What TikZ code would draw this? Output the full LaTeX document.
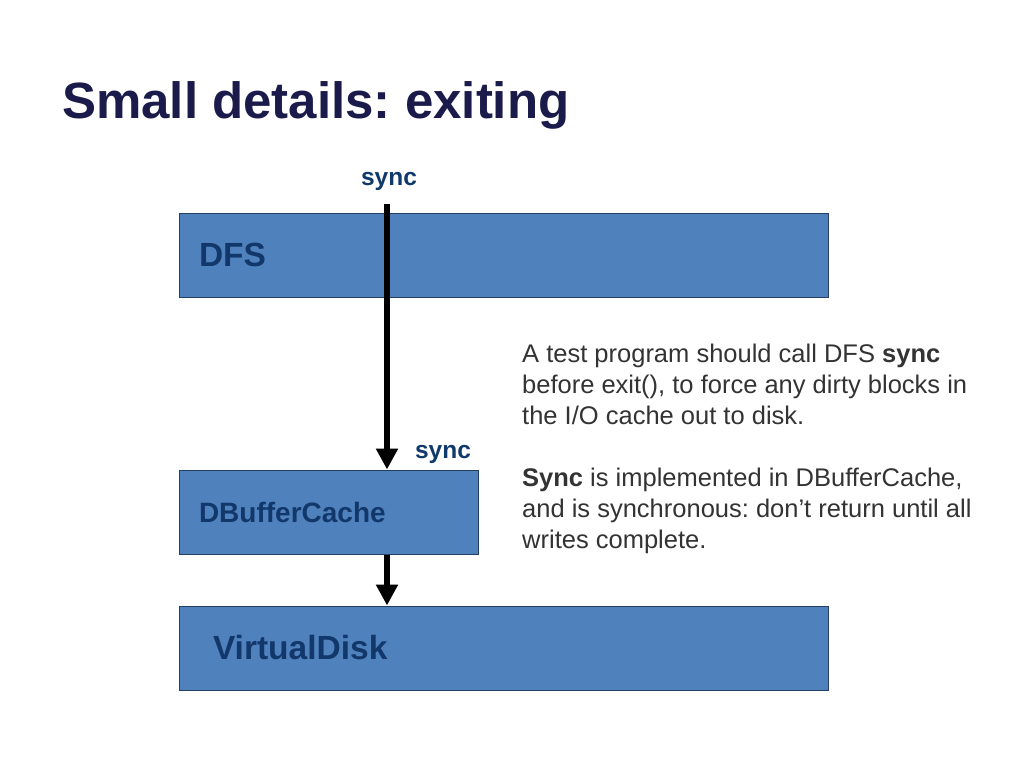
\documentclass[tikz,border=0pt]{standalone}
\usepackage{fontspec}
\setmainfont{Liberation Sans}
\usetikzlibrary{arrows.meta}
\definecolor{boxblue}{HTML}{4F81BD}
\definecolor{edgecol}{HTML}{243F60}
\definecolor{boxtext}{HTML}{12386B}
\definecolor{titlecol}{HTML}{1B1B4B}
\definecolor{synccol}{HTML}{0F3A6B}
\definecolor{bodycol}{HTML}{333333}
\tikzset{
  layer/.style={draw=edgecol, fill=boxblue, line width=1pt, minimum height=84pt,
    inner ysep=0pt, inner xsep=20pt, align=left, text=boxtext,
    font=\bfseries\fontsize{33.5}{40}\selectfont},
  synclabel/.style={anchor=base, inner sep=0pt, text=synccol,
    font=\bfseries\fontsize{24.5}{29}\selectfont},
  arr/.style={line width=6pt, -{Triangle[length=21pt,width=21pt]}},
}
\begin{document}
\frenchspacing
\begin{tikzpicture}[x=1pt,y=-1pt]
\useasboundingbox[fill=white] (0,0) rectangle (1024,768);
\node[anchor=base west, inner sep=0pt, text=titlecol,
  font=\bfseries\fontsize{51}{60}\selectfont] (title) at (62,118) {Small details: exiting};

\node[layer, text width=609pt] (dfs) at (503.5,255) {\raisebox{-1.5pt}{DFS}};
\node[layer, text width=259pt, font=\bfseries\fontsize{28}{34}\selectfont] (dbc) at (328.5,512) {DBufferCache};
\node[layer, inner xsep=34pt, text width=581pt] (vd) at (503.5,648) {\raisebox{-1.5pt}{VirtualDisk}};

\coordinate (start) at (387,204);
\node[synclabel] (sync1) at (389,185) {sync};
\node[synclabel] (sync2) at (443,458) {sync};

\draw[arr] (start) -- (start |- dbc.north);
\draw[arr] (start |- dbc.south) -- (start |- vd.north);

\node[anchor=base west, inner sep=0pt, align=left, text=bodycol,
  font=\fontsize{25.5}{31}\selectfont] (body) at (522,548)
  {A test program should call DFS \textbf{sync}\\
   before exit(), to force any dirty blocks in\\
   the I/O cache out to disk.\\[31pt]
   \textbf{Sync} is implemented in DBufferCache,\\
   and is synchronous: don’t return until all\\
   writes complete.};
\end{tikzpicture}
\end{document}
